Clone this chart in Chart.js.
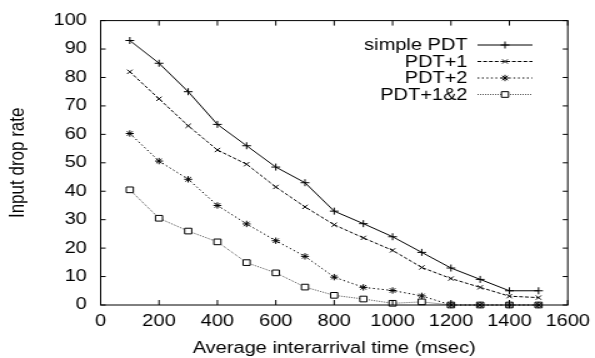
<!DOCTYPE html>
<html>
<head>
<meta charset="utf-8">
<script src="https://cdn.jsdelivr.net/npm/chart.js@4"></script>
<style>
  html, body { margin: 0; padding: 0; background: #fff; overflow: hidden; }
  #wrap { width: 595px; height: 358px; overflow: hidden; }
  /* the original plot is stretched sideways, so draw narrow and widen */
  #chart { transform: scaleX(1.25); transform-origin: 0 0; }
</style>
</head>
<body>
<div id="wrap"><canvas id="chart" width="476" height="358"></canvas></div>
<script>
const interarrival = [100, 200, 300, 400, 500, 600, 700, 800, 900, 1000, 1100, 1200, 1300, 1400, 1500];
const simplePdt = [93, 85, 75, 63.5, 56, 48.5, 43, 33, 28.6, 24, 18.5, 13, 9, 5, 5];
const pdtPlus1  = [82, 72.5, 63, 54.5, 49.5, 41.5, 34.5, 28.2, 23.6, 19.2, 13.2, 9.3, 6.2, 3.1, 2.6];
const pdtPlus2  = [60.3, 50.6, 44.2, 35, 28.5, 22.6, 17.1, 9.8, 6.2, 5.1, 3.2, 0, 0, 0, 0];
const pdtPlus12 = [40.5, 30.5, 26, 22.2, 14.9, 11.3, 6.3, 3.4, 2.1, 0.6, 1.1, 0, 0, 0, 0];
const seriesNames = ['simple PDT', 'PDT+1', 'PDT+2', 'PDT+1&2'];
const xTicks = [0, 200, 400, 600, 800, 1000, 1200, 1400, 1600];
const yTicks = [0, 10, 20, 30, 40, 50, 60, 70, 80, 90, 100];

const FONT = "'Liberation Sans', Arial, sans-serif";

function toPoints(ys) {
  return interarrival.map((x, i) => ({ x, y: ys[i] }));
}

// gnuplot style frame with inward ticks on all four sides, plus the key
const framePlugin = {
  id: 'frame',
  afterDatasetsDraw(chart) {
    const { ctx, chartArea: a, scales } = chart;
    ctx.save();
    ctx.strokeStyle = '#000';
    ctx.lineWidth = 1;
    ctx.strokeRect(a.left, a.top, a.right - a.left, a.bottom - a.top);
    ctx.beginPath();
    xTicks.forEach(v => {
      const px = scales.x.getPixelForValue(v);
      ctx.moveTo(px, a.bottom); ctx.lineTo(px, a.bottom - 5);
      ctx.moveTo(px, a.top);    ctx.lineTo(px, a.top + 5);
    });
    yTicks.forEach(v => {
      const py = scales.y.getPixelForValue(v);
      ctx.moveTo(a.left, py);  ctx.lineTo(a.left + 4, py);
      ctx.moveTo(a.right, py); ctx.lineTo(a.right - 4, py);
    });
    ctx.stroke();

    const textRight = 374, lineStart = 382, lineEnd = 426;
    const rows = [45, 61.5, 78, 94.5];
    chart.data.datasets.forEach((ds, i) => {
      const y = rows[i];
      ctx.fillStyle = '#000';
      ctx.font = '16px ' + FONT;
      ctx.textAlign = 'right';
      ctx.textBaseline = 'middle';
      ctx.fillText(ds.label, textRight, y + 1);
      ctx.strokeStyle = ds.borderColor;
      ctx.lineWidth = ds.borderWidth;
      ctx.setLineDash(ds.borderDash || []);
      ctx.beginPath();
      ctx.moveTo(lineStart, y); ctx.lineTo(lineEnd, y);
      ctx.stroke();
      ctx.setLineDash([]);
      ctx.strokeStyle = '#000';
      ctx.fillStyle = '#fff';
      Chart.helpers.drawPoint(ctx, {
        pointStyle: ds.pointStyle, radius: ds.pointRadius, rotation: 0, borderWidth: 1
      }, (lineStart + lineEnd) / 2, y);
    });
    ctx.restore();
  }
};

const lineBase = {
  borderWidth: 1,
  pointBorderColor: '#000',
  pointBackgroundColor: '#fff',
  pointBorderWidth: 1,
  fill: false,
  tension: 0,
  clip: false
};

new Chart(document.getElementById('chart'), {
  type: 'line',
  data: {
    datasets: [
      { ...lineBase, label: seriesNames[0], data: toPoints(simplePdt), borderColor: '#000',
        pointStyle: 'cross', pointRadius: 3.5 },
      { ...lineBase, label: seriesNames[1], data: toPoints(pdtPlus1), borderColor: '#000',
        borderDash: [3, 1.6], pointStyle: 'crossRot', pointRadius: 3 },
      { ...lineBase, label: seriesNames[2], data: toPoints(pdtPlus2), borderColor: '#000',
        borderDash: [1.4, 2.2], pointStyle: 'star', pointRadius: 3.2 },
      { ...lineBase, label: seriesNames[3], data: toPoints(pdtPlus12), borderColor: '#555',
        borderDash: [1, 1], pointStyle: 'rect', pointRadius: 4 }
    ]
  },
  options: {
    responsive: false,
    animation: false,
    devicePixelRatio: 1,
    layout: { padding: { top: 15, right: 21.8, left: 0, bottom: 0 } },
    plugins: { legend: { display: false }, tooltip: { enabled: false } },
    scales: {
      x: {
        type: 'linear', min: 0, max: 1600,
        afterFit: s => { s.height = 53; s.paddingLeft = 0; s.paddingRight = 0; },
        afterBuildTicks: s => { s.ticks = xTicks.map(v => ({ value: v })); },
        grid: { display: false, drawTicks: false },
        border: { display: false },
        ticks: { color: '#000', padding: 7, maxRotation: 0, autoSkip: false,
                 callback: v => String(v), font: { family: FONT, size: 16 } },
        title: { display: true, text: 'Average interarrival time (msec)', color: '#000',
                 padding: { top: 0, bottom: 0 }, font: { family: FONT, size: 16 } }
      },
      y: {
        type: 'linear', min: 0, max: 100,
        afterFit: s => { s.width = 80.5; },
        afterBuildTicks: s => { s.ticks = yTicks.map(v => ({ value: v })); },
        grid: { display: false, drawTicks: false },
        border: { display: false },
        ticks: { color: '#000', padding: 11, autoSkip: false,
                 callback: v => String(v), font: { family: FONT, size: 16 } },
        title: { display: true, text: 'Input drop rate', color: '#000',
                 padding: { top: 4, bottom: 0 }, font: { family: FONT, size: 17 } }
      }
    }
  },
  plugins: [framePlugin]
});
</script>
</body>
</html>
